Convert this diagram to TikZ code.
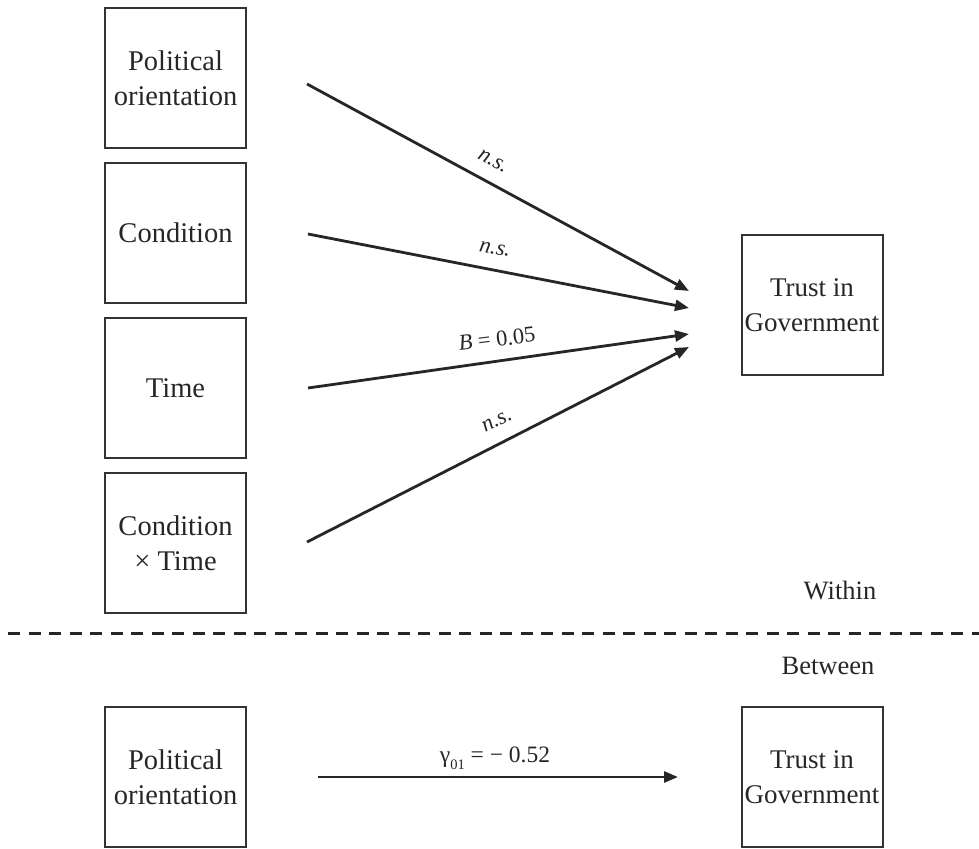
\documentclass[tikz,border=0pt]{standalone}
\usepackage{fontspec}
\setmainfont{Liberation Serif}
\usepackage{tikz}
\usetikzlibrary{arrows.meta}

\begin{document}
\begin{tikzpicture}[x=1pt, y=-1pt,
    var/.style={draw=black!80, line width=2pt, minimum width=141pt, minimum height=140pt,
        inner sep=0pt, align=center, text=black!85, font=\fontsize{28.5}{35}\selectfont},
    outcome/.style={var, font=\fontsize{27}{35}\selectfont},
    path/.style={draw=black!85, line width=2.8pt, -{Triangle[length=14pt,width=11pt]}},
    coef/.style={text=black!85, font=\fontsize{22.5}{25}\selectfont, inner sep=0pt},
    level/.style={text=black!85, font=\fontsize{26.5}{30}\selectfont}]
    \useasboundingbox (0,0) rectangle (979,848);

    % Within-person predictors
    \node[var] (pol) at (175.5,78) {Political\\orientation};
    \node[var] (cond) at (175.5,233) {Condition};
    \node[var] (time) at (175.5,388) {Time};
    \node[var] (inter) at (175.5,543) {Condition\\× Time};

    % Outcome
    \node[outcome] (trust) at (812,305) {Trust in\\Government};

    % Ends of the paths
    \coordinate (pol-out) at (307,84);
    \coordinate (cond-out) at (308,234);
    \coordinate (time-out) at (308,388);
    \coordinate (inter-out) at (307,542);
    \coordinate (pol-in) at (689,291);
    \coordinate (cond-in) at (689,308);
    \coordinate (time-in) at (689,334);
    \coordinate (inter-in) at (689,347);

    % Within paths
    \draw[path] (pol-out) -- (pol-in);
    \draw[path] (cond-out) -- (cond-in);
    \draw[path] (time-out) -- (time-in);
    \draw[path] (inter-out) -- (inter-in);
    \node[coef, rotate=-28] (lab-pol) at (493,161) {\textit{n.s.}};
    \node[coef, rotate=-11] (lab-cond) at (495,249) {\textit{n.s.}};
    \node[coef, rotate=7] (lab-time) at (497,339) {\textit{B} = 0.05};
    \node[coef, rotate=27] (lab-inter) at (497,421) {\textit{n.s.}};

    % Levels
    \node[level] (within) at (840,590) {Within};
    \draw[black!85, line width=3pt, dash pattern=on 12pt off 8.5pt] (8,633) -- (979,633);
    \node[level] (between) at (828,666) {Between};

    % Between-person model
    \node[var] (pol-b) at (175.5,777) {Political\\orientation};
    \node[outcome] (trust-b) at (812,777) {Trust in\\Government};
    \coordinate (pol-b-out) at (318,777);
    \coordinate (trust-b-in) at (678,777);
    \draw[path] (pol-b-out) -- (trust-b-in);
    \node[coef, anchor=base, font=\fontsize{23.5}{25}\selectfont] (lab-b) at (495,762)
        {γ\raisebox{-0.3em}{\fontsize{14.5}{14}\selectfont 01} = − 0.52};
\end{tikzpicture}
\end{document}
